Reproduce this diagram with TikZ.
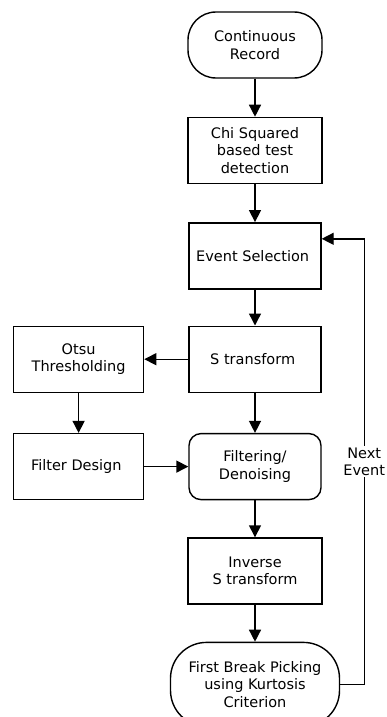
\documentclass[tikz,border=0pt]{standalone}
\usepackage{fontspec}
\setmainfont{DejaVu Sans}
\usetikzlibrary{
    positioning,
    arrows.meta
}

\begin{document}
\begin{tikzpicture}
[
    x=1pt,
    y=1pt,
    font=\fontsize{14.5}{17.5}\selectfont,
    line width=1.4pt,
    block/.style={
        rectangle,
        draw=black,
        line width=1.4pt,
        align=center,
        minimum width=132pt,
        minimum height=66pt,
        inner sep=2pt
    },
    terminal/.style={
        block,
        rounded corners=28pt
    },
    arrow/.style={
        -{Triangle[length=12pt,width=12pt]},
        line width=1.4pt
    }
]

\useasboundingbox (0,0) rectangle (386,-717);
\clip (0,0) rectangle (386,-717);


% =====================
% MAIN CHAIN
% =====================

\node[
terminal,
minimum width=134pt
]
(record)
at (255,-45)
{
Continuous\\
Record
};


\node[
block,
minimum width=134pt,
below=38pt of record
]
(chisq)
{
Chi Squared\\
based test\\
detection
};


\node[
block,
below=38pt of chisq
]
(event)
{
Event Selection
};


\node[
block,
below=36pt of event
]
(stransform)
{
S transform
};


\node[
block,
rounded corners=12pt,
below=40pt of stransform
]
(filtering)
{
Filtering/\\
Denoising
};


\node[
block,
minimum width=134pt,
below=37pt of filtering
]
(inverse)
{
Inverse\\
S transform
};


\node[
terminal,
rounded corners=36pt,
minimum width=169pt,
minimum height=84pt,
below=37pt of inverse
]
(picking)
{
First Break Picking\\
using Kurtosis\\
Criterion
};



% =====================
% SIDE BRANCH
% =====================

\node[
block,
minimum width=130pt,
left=44pt of stransform
]
(otsu)
{
Otsu\\
Thresholding
};


\node[
block,
minimum width=130pt,
left=44pt of filtering
]
(design)
{
Filter Design
};



% =====================
% CONNECTIONS
% =====================


\draw[arrow]
(record)
--
(chisq);


\draw[arrow]
(chisq)
--
(event);


\draw[arrow]
(event)
--
(stransform);


\draw[arrow]
(stransform)
--
(otsu);


\draw[arrow]
(otsu)
--
(design);


\draw[arrow]
(stransform)
--
(filtering);


\draw[arrow]
(design)
--
(filtering);


\draw[arrow]
(filtering)
--
(inverse);


\draw[arrow]
(inverse)
--
(picking);


\draw[arrow]
(picking.east)
--
++(24,0)
|-
node[pos=0.25, fill=white, align=center, inner sep=1pt]
{Next\\Event}
([yshift=17pt]event.east);


\end{tikzpicture}
\end{document}
